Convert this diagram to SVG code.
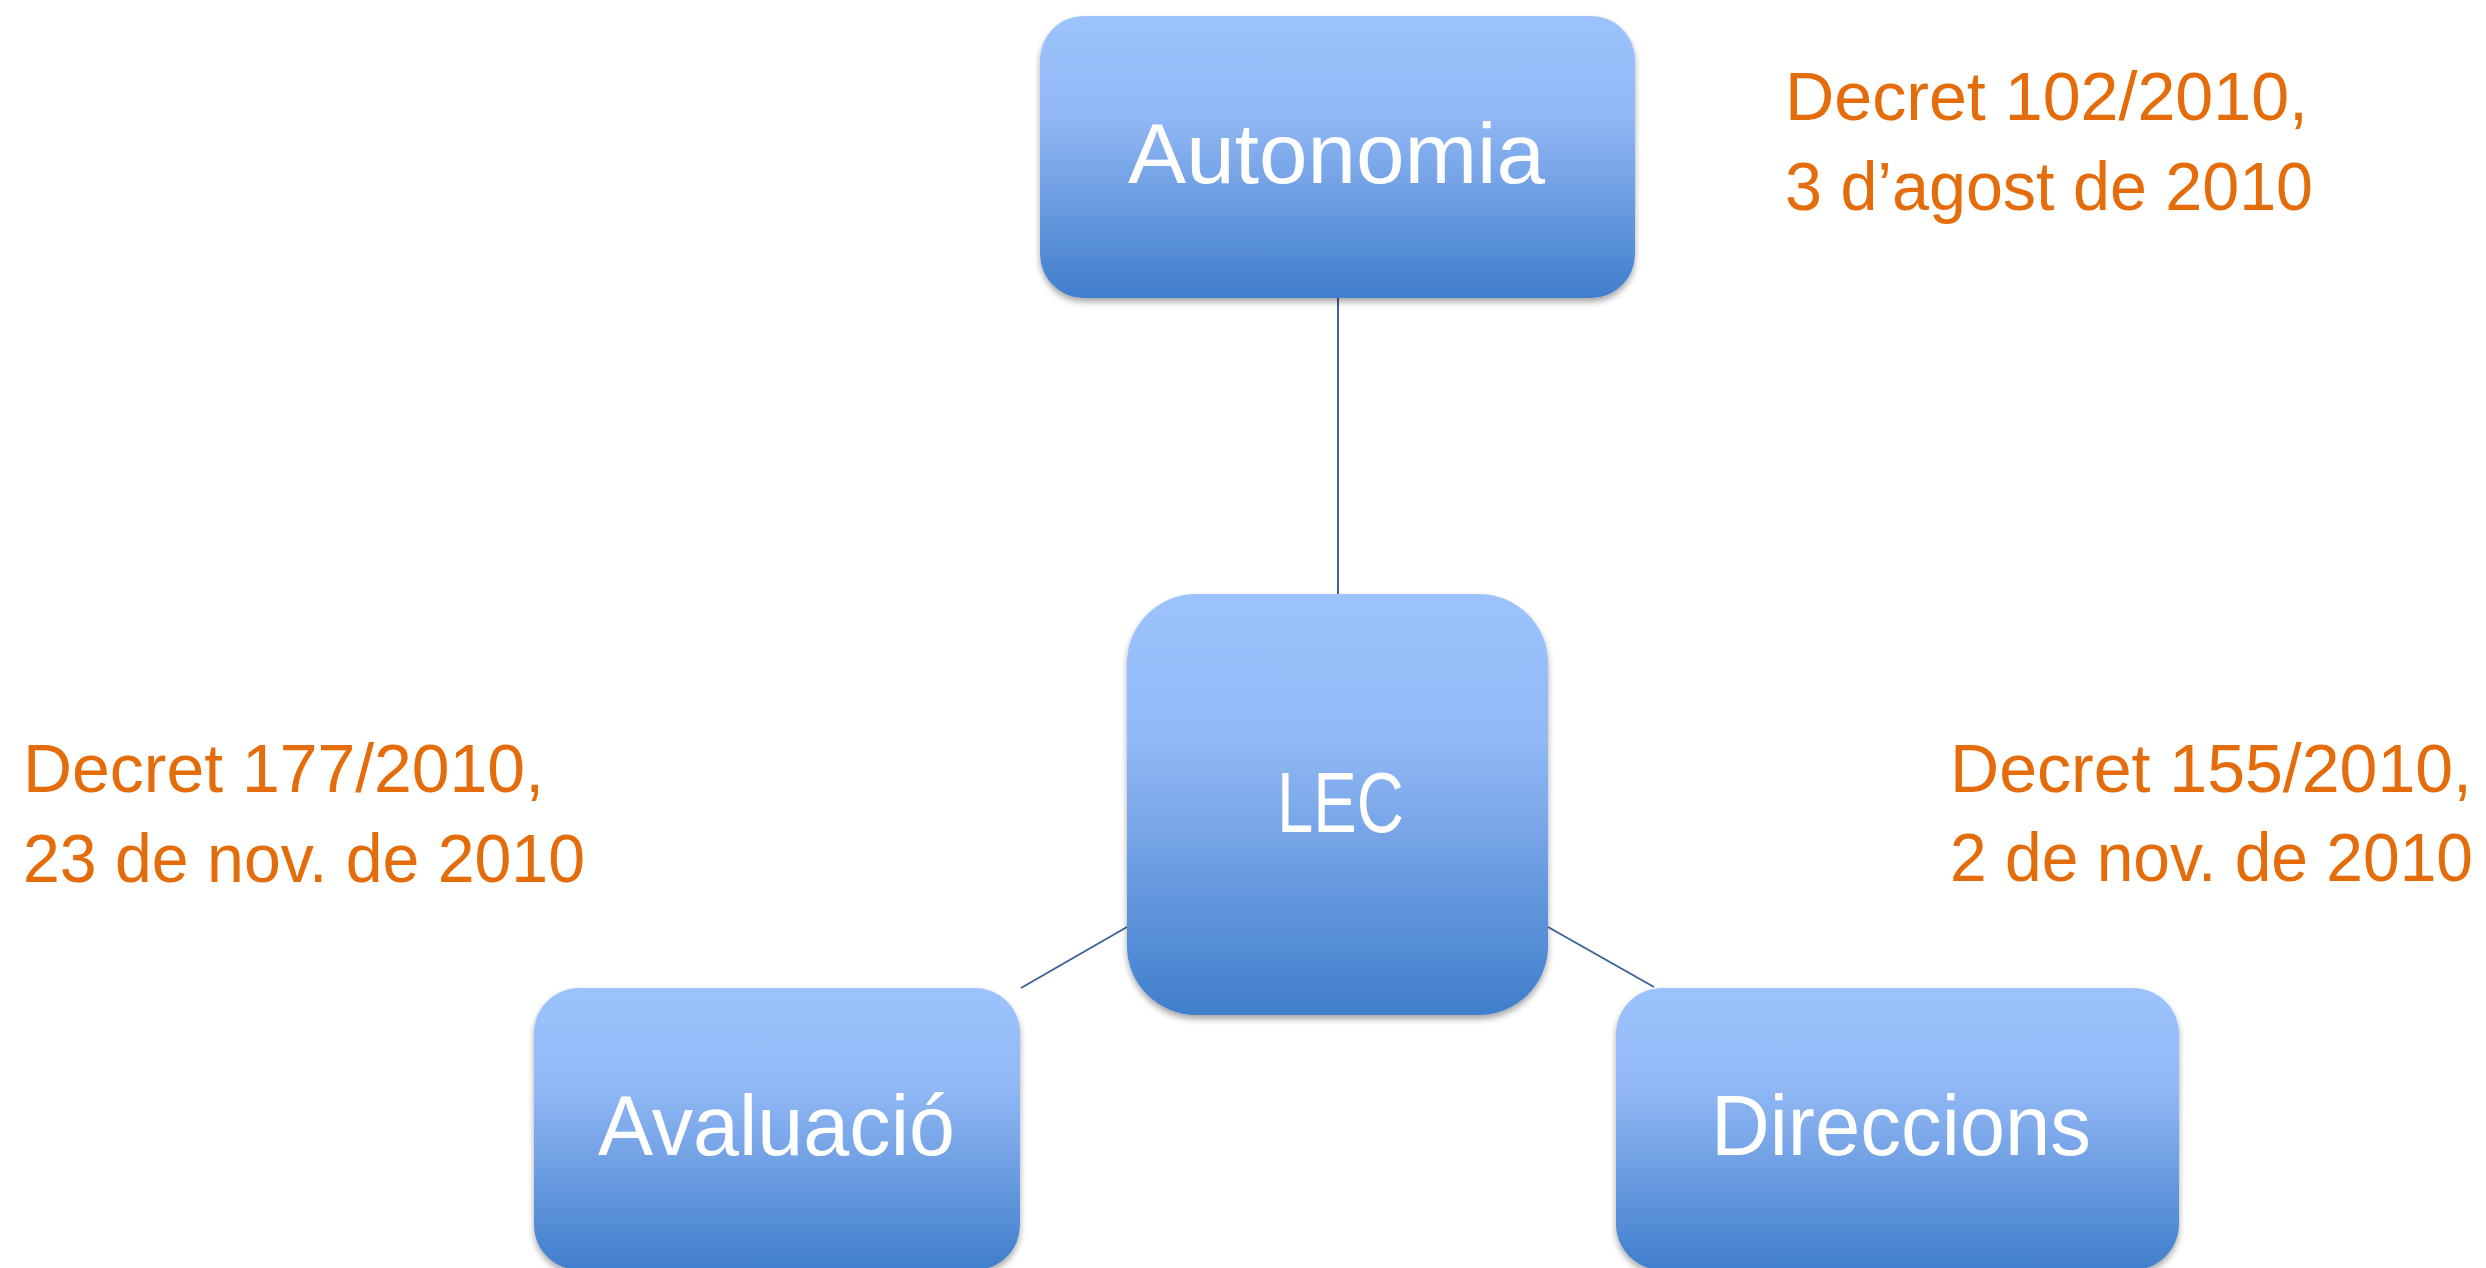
<svg xmlns="http://www.w3.org/2000/svg" width="2486" height="1268" viewBox="0 0 2486 1268">
<style>
.node-text{font-family:"Liberation Sans",Arial,sans-serif;font-size:86px;fill:#ffffff;}
.note{font-family:"Liberation Sans",Arial,sans-serif;font-size:68px;fill:#e46c0a;}
.conn{stroke:#3d6198;stroke-width:2;fill:none;}
.box{fill:url(#grad);filter:url(#shadow);}
</style>
<defs>
<linearGradient id="grad" x1="0" y1="0" x2="0" y2="1">
<stop offset="0" stop-color="#9dc3ff"/>
<stop offset="0.35" stop-color="#92b8f5"/>
<stop offset="1" stop-color="#407ecb"/>
</linearGradient>
<filter id="shadow" x="-10%" y="-10%" width="120%" height="125%">
<feDropShadow dx="0" dy="4" stdDeviation="3" flood-color="#000000" flood-opacity="0.35"/>
</filter>
</defs>
<rect width="2486" height="1268" fill="#ffffff"/>
<g id="connectors">
<line class="conn" x1="1338" y1="298" x2="1338" y2="594"/>
<line class="conn" x1="1127" y1="927" x2="1021" y2="988"/>
<line class="conn" x1="1548" y1="927" x2="1654" y2="987"/>
</g>
<g id="node-autonomia">
<rect class="box" x="1040" y="16" width="595" height="282" rx="44" ry="44"/>
<text class="node-text" x="1128" y="183" textLength="417" lengthAdjust="spacingAndGlyphs">Autonomia</text>
</g>
<g id="node-lec">
<rect class="box" x="1127" y="594" width="421" height="421" rx="69" ry="69"/>
<text class="node-text" x="1277" y="832" textLength="127" lengthAdjust="spacingAndGlyphs">LEC</text>
</g>
<g id="node-avaluacio">
<rect class="box" x="534" y="988" width="486" height="282" rx="45" ry="45"/>
<text class="node-text" x="598" y="1155" textLength="357" lengthAdjust="spacingAndGlyphs">Avaluació</text>
</g>
<g id="node-direccions">
<rect class="box" x="1616" y="988" width="563" height="282" rx="46" ry="46"/>
<text class="node-text" x="1711" y="1155" textLength="380" lengthAdjust="spacingAndGlyphs">Direccions</text>
</g>
<g id="note-autonomia">
<text class="note" x="1785" y="120" textLength="523" lengthAdjust="spacingAndGlyphs">Decret 102/2010,</text>
<text class="note" x="1785" y="210" textLength="528" lengthAdjust="spacingAndGlyphs">3 d’agost de 2010</text>
</g>
<g id="note-avaluacio">
<text class="note" x="23" y="792" textLength="521" lengthAdjust="spacingAndGlyphs">Decret 177/2010,</text>
<text class="note" x="23" y="882" textLength="562" lengthAdjust="spacingAndGlyphs">23 de nov. de 2010</text>
</g>
<g id="note-direccions">
<text class="note" x="1950" y="792" textLength="522" lengthAdjust="spacingAndGlyphs">Decret 155/2010,</text>
<text class="note" x="1950" y="881" textLength="523" lengthAdjust="spacingAndGlyphs">2 de nov. de 2010</text>
</g>
</svg>
